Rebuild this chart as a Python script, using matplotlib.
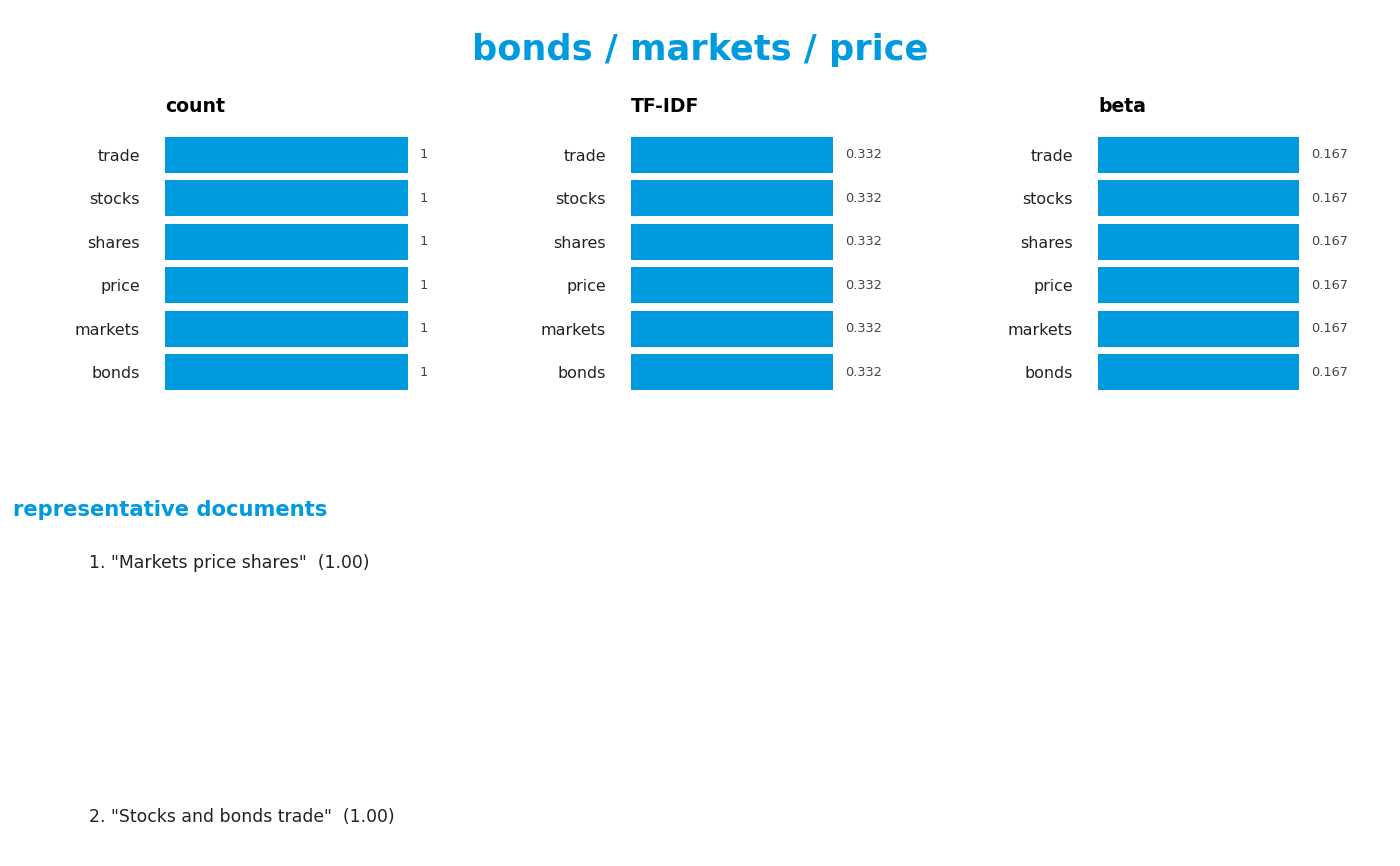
import numpy as np
import matplotlib.pyplot as plt

plt.rcParams['font.family'] = ['DejaVu Sans']

# topic words (bottom to top in the chart)
terms = ["bonds", "markets", "price", "shares", "stocks", "trade"]
count_vals = [1, 1, 1, 1, 1, 1]
tfidf_vals = [0.332, 0.332, 0.332, 0.332, 0.332, 0.332]
beta_vals = [0.167, 0.167, 0.167, 0.167, 0.167, 0.167]

panel_titles = ["count", "TF-IDF", "beta"]
panel_vals = [count_vals, tfidf_vals, beta_vals]
panel_fmt = ["{:g}", "{:.3f}", "{:.3f}"]

docs = ['1. "Markets price shares"  (1.00)',
        '2. "Stocks and bonds trade"  (1.00)']

title = "bonds / markets / price"
blue = "#009ADE"

W, H = 1400, 866
fig = plt.figure(figsize=(W / 100, H / 100), dpi=100)

# axes positions in pixels: left, bar length at max value
lefts = [165, 631, 1098]
bar_len = [243, 202, 201]
top_px, bot_px = 133, 394

for left, blen, name, vals, fmt in zip(lefts, bar_len, panel_titles, panel_vals, panel_fmt):
    ax = fig.add_axes([left / W, 1 - bot_px / H, blen / W, (bot_px - top_px) / H])
    y = np.arange(len(terms))
    ax.barh(y, vals, height=0.83, color=blue)
    vmax = max(vals)
    ax.set_xlim(0, vmax)
    ax.set_ylim(-0.5, len(terms) - 0.5)
    for yi, v in zip(y, vals):
        ax.text(v + vmax * 12 / blen, yi, fmt.format(v), va="center", ha="left",
                fontsize=9.3, color="#444444", clip_on=False)
    ax.set_yticks(y)
    ax.set_yticklabels(terms, fontsize=11.4, color="#222222")
    ax.tick_params(axis="y", length=0, pad=18)
    ax.set_xticks([])
    for s in ax.spines.values():
        s.set_visible(False)
    fig.text(left / W, 1 - 106 / H, name, fontsize=13.6, fontweight="bold",
             ha="left", va="center")

fig.text(0.5, 1 - 50 / H, title, fontsize=25.3, fontweight="bold", color=blue,
         ha="center", va="center")
fig.text(13 / W, 1 - 510 / H, "representative documents", fontsize=15.2,
         fontweight="bold", color=blue, ha="left", va="center")
for ypx, d in zip([563, 817], docs):
    fig.text(89 / W, 1 - ypx / H, d, fontsize=12.4, color="#222222",
             ha="left", va="center")

fig.savefig("out.png", dpi=100)
